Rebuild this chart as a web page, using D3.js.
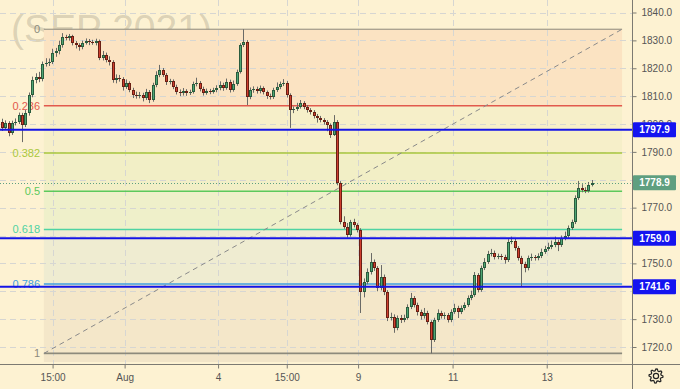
<!DOCTYPE html>
<html><head><meta charset="utf-8">
<script src="https://cdn.jsdelivr.net/npm/d3@7"></script>
<style>html,body{margin:0;padding:0;background:#fdf2d2;} svg{display:block;font-family:"Liberation Sans",Arial,sans-serif;}</style>
</head><body><svg id="c" width="680" height="389"></svg>
<script>
const opens = [
1800.7,1798.6,1800.4,1796.8,1800.4,1800.7,1803.2,1799.6,1803.9,1810.4,
1815.8,1816.9,1816.1,1821.5,1821.9,1822.2,1825.5,1826.2,1828.3,1831.2,
1830.8,1831.6,1829.1,1828.3,1827.6,1829.1,1829.8,1829.4,1829.0,1829.8,
1823.7,1824.8,1823.0,1822.2,1815.8,1816.5,1816.1,1813.3,1814.7,1812.2,
1810.4,1810.0,1810.4,1809.3,1811.5,1808.6,1814.0,1817.6,1819.4,1817.6,
1815.1,1815.4,1813.3,1811.5,1811.1,1811.8,1811.1,1811.5,1814.4,1814.7,
1812.6,1811.1,1811.8,1811.5,1812.2,1812.9,1814.0,1812.9,1815.1,1812.2,
1814.4,1818.7,1828.3,1829.4,1809.7,1812.2,1812.6,1811.8,1812.9,1811.5,
1810.0,1809.7,1812.2,1813.3,1814.4,1814.7,1810.4,1805.0,1805.4,1806.1,
1807.5,1806.1,1805.0,1804.3,1802.9,1802.2,1801.4,1800.7,1799.6,1796.1,
1800.7,1778.8,1764.8,1763.1,1760.2,1764.8,1763.8,1762.0,1739.7,1743.3,
1746.9,1750.5,1748.3,1741.2,1745.1,1739.7,1730.4,1730.9,1726.8,1730.4,
1729.7,1730.4,1734.4,1737.6,1735.1,1732.6,1731.1,1732.2,1729.0,1722.5,
1729.7,1732.2,1731.1,1731.5,1729.7,1732.6,1734.0,1732.6,1734.0,1735.1,
1737.6,1738.7,1745.8,1740.5,1748.3,1750.5,1753.4,1753.7,1752.3,1752.6,
1752.3,1751.2,1757.7,1758.0,1755.5,1751.9,1749.8,1748.3,1751.9,1752.3,
1751.9,1752.6,1754.1,1755.2,1755.9,1756.6,1757.7,1756.6,1759.1,1759.8,
1762.7,1764.8,1773.5,1777.0,1776.3,1776.0,1778.1];
const closes = [
1798.6,1800.4,1796.8,1800.4,1800.7,1803.2,1799.6,1803.9,1810.4,1815.8,
1816.9,1816.1,1821.5,1821.9,1822.2,1825.5,1826.2,1828.3,1831.2,1830.8,
1831.6,1829.1,1828.3,1827.6,1829.1,1829.8,1829.4,1829.0,1829.8,1823.7,
1824.8,1823.0,1822.2,1815.8,1816.5,1816.1,1813.3,1814.7,1812.2,1810.4,
1810.0,1810.4,1809.3,1811.5,1808.6,1814.0,1817.6,1819.4,1817.6,1815.1,
1815.4,1813.3,1811.5,1811.1,1811.8,1811.1,1811.5,1814.4,1814.7,1812.6,
1811.1,1811.8,1811.5,1812.2,1812.9,1814.0,1812.9,1815.1,1812.2,1814.4,
1818.7,1828.3,1829.4,1809.7,1812.2,1812.6,1811.8,1812.9,1811.5,1810.0,
1809.7,1812.2,1813.3,1814.4,1814.7,1810.4,1805.0,1805.4,1806.1,1807.5,
1806.1,1805.0,1804.3,1802.9,1802.2,1801.4,1800.7,1799.6,1796.1,1800.7,
1778.8,1764.8,1763.1,1760.2,1764.8,1763.8,1762.0,1739.7,1743.3,1746.9,
1750.5,1748.3,1741.2,1745.1,1739.7,1730.4,1730.9,1726.8,1730.4,1729.7,
1730.4,1734.4,1737.6,1735.1,1732.6,1731.1,1732.2,1729.0,1722.5,1729.7,
1732.2,1731.1,1731.5,1729.7,1732.6,1734.0,1732.6,1734.0,1735.1,1737.6,
1738.7,1745.8,1740.5,1748.3,1750.5,1753.4,1753.7,1752.3,1752.6,1752.3,
1751.2,1757.7,1758.0,1755.5,1751.9,1749.8,1748.3,1751.9,1752.3,1751.9,
1752.6,1754.1,1755.2,1755.9,1756.6,1757.7,1756.6,1759.1,1759.8,1762.7,
1764.8,1773.5,1777.0,1776.3,1776.0,1778.1,1778.9];
const highs = [
1801.9,1801.3,1801.0,1801.2,1802.0,1804.1,1804.0,1805.0,1811.3,1817.0,
1818.2,1818.7,1822.4,1823.6,1823.5,1827.0,1827.3,1829.9,1832.6,1832.0,
1832.3,1832.0,1829.8,1829.0,1829.9,1830.7,1830.5,1830.2,1830.6,1830.3,
1826.2,1825.6,1824.3,1822.9,1817.8,1817.6,1816.8,1816.0,1815.3,1813.0,
1811.6,1811.5,1811.2,1812.6,1812.2,1814.8,1818.9,1821.2,1820.1,1818.3,
1816.2,1816.0,1814.1,1812.4,1812.9,1812.5,1812.3,1815.2,1816.6,1815.4,
1813.4,1812.7,1812.6,1813.0,1813.9,1815.3,1814.8,1816.3,1815.9,1815.6,
1819.5,1829.0,1834.0,1830.1,1813.1,1813.5,1813.4,1813.8,1813.5,1812.0,
1810.9,1813.0,1814.9,1815.2,1816.1,1815.4,1811.0,1806.3,1807.6,1808.6,
1808.2,1806.8,1805.7,1805.0,1803.6,1802.9,1802.1,1801.4,1800.2,1803.2,
1801.4,1779.5,1766.9,1764.5,1765.6,1766.0,1764.4,1762.6,1744.6,1748.2,
1753.7,1751.4,1749.0,1749.4,1746.0,1740.4,1732.3,1731.7,1731.3,1731.5,
1731.6,1735.3,1739.4,1738.3,1735.9,1733.4,1734.0,1733.0,1729.6,1730.5,
1733.5,1733.0,1732.4,1732.2,1733.5,1735.5,1734.8,1734.9,1736.0,1738.5,
1740.2,1746.9,1746.5,1749.2,1751.9,1754.5,1755.2,1754.6,1753.5,1753.4,
1753.1,1758.7,1759.6,1758.8,1756.2,1752.7,1750.6,1752.8,1753.5,1753.0,
1753.6,1755.3,1756.3,1757.4,1758.2,1759.6,1758.5,1760.0,1761.4,1763.6,
1765.7,1774.4,1779.6,1778.4,1777.3,1779.2,1779.9];
const lows = [
1797.5,1797.9,1795.6,1796.1,1799.5,1800.0,1793.5,1798.9,1803.0,1809.6,
1814.6,1815.0,1815.3,1820.6,1820.8,1821.5,1824.1,1825.0,1827.4,1830.0,
1829.9,1828.2,1827.1,1826.3,1826.8,1828.5,1828.3,1828.4,1828.2,1822.9,
1822.8,1822.1,1821.0,1814.8,1814.6,1815.2,1812.0,1812.6,1811.4,1809.3,
1809.1,1809.2,1808.1,1808.6,1807.5,1808.0,1813.2,1816.8,1816.9,1814.0,
1814.2,1812.5,1810.6,1810.0,1810.2,1810.1,1810.4,1810.9,1813.5,1811.7,
1810.2,1810.5,1810.7,1810.9,1811.4,1812.1,1811.9,1812.3,1811.3,1811.6,
1813.7,1818.1,1827.6,1806.8,1808.9,1811.2,1810.9,1811.0,1810.6,1809.0,
1808.8,1809.0,1811.5,1812.5,1813.6,1809.5,1798.6,1803.9,1804.7,1805.5,
1805.3,1804.1,1803.4,1802.0,1800.5,1800.6,1799.8,1797.4,1795.0,1795.7,
1778.0,1764.0,1762.4,1759.2,1759.6,1762.9,1761.1,1732.2,1737.8,1742.5,
1746.0,1747.3,1740.0,1740.3,1738.6,1729.3,1729.5,1725.1,1726.0,1728.6,
1728.9,1729.8,1733.6,1734.2,1731.3,1729.8,1730.2,1728.1,1717.7,1721.8,
1729.0,1730.2,1730.0,1728.8,1728.9,1731.9,1730.4,1731.8,1733.2,1734.4,
1736.8,1738.0,1739.6,1739.8,1747.6,1749.8,1752.5,1751.4,1751.5,1751.2,
1749.9,1750.5,1756.9,1754.6,1751.0,1741.8,1746.8,1747.5,1750.9,1751.0,
1751.1,1751.9,1753.4,1754.5,1755.1,1755.8,1754.4,1755.9,1758.3,1759.0,
1762.0,1764.1,1772.8,1775.5,1775.2,1775.4,1777.6];

const priceTicks = [1720,1730,1740,1750,1760,1770,1780,1790,1800,1810,1820,1830,1840];
const hiddenTickLabels = [1740,1760,1780];
const timeTickLabels = ["15:00","Aug","4","15:00","9","11","13"];
const timeTickBars = [15.1,36.6,64.5,85.0,106.3,134.5,162.6];

const fibLevels = [0,0.236,0.382,0.5,0.618,0.786,1];
const fibLabels = ["0","0.236","0.382","0.5","0.618","0.786","1"];
const fibColors = ["#8c8a7c","#e2594d","#a9c73c","#5cc95c","#4fd3a2","#3f9fe0","#8c8a7c"];
const fibFills = ["#fbe3c2","#f6efc9","#f2efc6","#eff0ca","#efecd1","#f4e7c9"];
const fibHigh = 1834.0, fibLow = 1717.7;
const fibStartBar = 12.5, fibEndBar = 185.1;

const hLines = [1797.9, 1759.0, 1741.6];
const lastPrice = 1778.9;
const symbolText = "(SEP 2021)";

const W = 680, H = 389, plotR = 632, plotB = 364;
const svg = d3.select("#c");
const x = d3.scaleLinear().domain([0, closes.length - 1]).range([2, 591.6]);
const y = d3.scaleLinear().domain([1720, 1840]).range([347, 12.5]);
const fibPrice = l => fibHigh - (fibHigh - fibLow) * l;

svg.append("rect").attr("width", W).attr("height", H).attr("fill", "#fdf2d2");

// watermark
svg.append("text").attr("x", 11).attr("y", 42).attr("font-size", 39)
  .attr("fill", "#8c8470").attr("fill-opacity", 0.3).text(symbolText);

// fib fills
const fx0 = x(fibStartBar), fx1 = x(fibEndBar);
for (let k = 0; k < fibLevels.length - 1; k++) {
  const ya = y(fibPrice(fibLevels[k])), yb = y(fibPrice(fibLevels[k + 1]));
  svg.append("rect").attr("x", fx0).attr("width", fx1 - fx0).attr("y", ya).attr("height", yb - ya)
    .attr("fill", fibFills[k]);
}
svg.append("rect").attr("x", fx0).attr("width", fx1 - fx0).attr("y", y(fibLow) + 1)
  .attr("height", plotB - y(fibLow) - 3).attr("fill", "#f2e5c8");

// grid
const grid = svg.append("g").attr("stroke", "#d6d6d2").attr("stroke-dasharray", "6,4").attr("stroke-width", 1);
priceTicks.forEach(p => grid.append("line").attr("x1", 0).attr("x2", plotR)
  .attr("y1", Math.round(y(p)) + 0.5).attr("y2", Math.round(y(p)) + 0.5));
timeTickBars.forEach(b => grid.append("line").attr("y1", 0).attr("y2", plotB)
  .attr("x1", Math.round(x(b)) + 0.5).attr("x2", Math.round(x(b)) + 0.5));

// fib lines
fibLevels.forEach((l, k) => {
  const yy = y(fibPrice(l));
  svg.append("line").attr("x1", fx0).attr("x2", fx1).attr("y1", yy).attr("y2", yy)
    .attr("stroke", fibColors[k]).attr("stroke-width", (k === 0) ? 1 : 1.6);
  svg.append("text").attr("x", 40).attr("y", yy).attr("dy", "0.35em").attr("text-anchor", "end")
    .attr("font-size", 11).attr("fill", fibColors[k]).text(fibLabels[k]);
});

// trend line
svg.append("line").attr("x1", fx0).attr("y1", y(fibLow)).attr("x2", fx1).attr("y2", y(fibHigh))
  .attr("stroke", "#8a8a8a").attr("stroke-width", 1).attr("stroke-dasharray", "5,4");

// last price dotted line
svg.append("line").attr("x1", 0).attr("x2", plotR).attr("y1", Math.round(y(lastPrice)) + 0.5).attr("y2", Math.round(y(lastPrice)) + 0.5)
  .attr("stroke", "#5f9f80").attr("stroke-width", 1).attr("stroke-dasharray", "1,2");

// candles
const data = closes.map((c, i) => ({ i, o: opens[i], h: highs[i], l: lows[i], c }));
const cg = svg.append("g").selectAll("g").data(data).join("g");
cg.append("line")
  .attr("x1", d => Math.round(x(d.i)) + 0.5).attr("x2", d => Math.round(x(d.i)) + 0.5)
  .attr("y1", d => y(d.h)).attr("y2", d => y(d.l))
  .attr("stroke", "#6a6a66").attr("stroke-width", 1);
cg.append("rect")
  .attr("x", d => Math.round(x(d.i)) - 1).attr("width", 3)
  .attr("y", d => Math.round(y(Math.max(d.o, d.c))))
  .attr("height", d => Math.max(1, Math.round(y(Math.min(d.o, d.c))) - Math.round(y(Math.max(d.o, d.c)))))
  .attr("fill", d => d.c >= d.o ? "#2a5c3e" : "#6a1f14");
cg.filter(d => Math.abs(y(d.o) - y(d.c)) > 2.5).append("rect")
  .attr("x", d => Math.round(x(d.i))).attr("width", 1)
  .attr("y", d => Math.round(y(Math.max(d.o, d.c))) + 1)
  .attr("height", d => Math.max(1, Math.round(y(Math.min(d.o, d.c))) - Math.round(y(Math.max(d.o, d.c))) - 2))
  .attr("fill", d => d.c >= d.o ? "#4fa673" : "#cf3f2e");

// blue horizontal lines
hLines.forEach(p => {
  svg.append("line").attr("x1", 0).attr("x2", plotR).attr("y1", y(p)).attr("y2", y(p))
    .attr("stroke", "#1414e6").attr("stroke-width", 2);
});

// axes area
svg.append("rect").attr("x", plotR).attr("y", 0).attr("width", W - plotR).attr("height", H).attr("fill", "#fdf2d2");
svg.append("rect").attr("x", 0).attr("y", plotB).attr("width", W).attr("height", H - plotB).attr("fill", "#fdf2d2");
svg.append("line").attr("x1", plotR + 0.5).attr("x2", plotR + 0.5).attr("y1", 0).attr("y2", H).attr("stroke", "#7c7a72");
svg.append("line").attr("x1", 0).attr("x2", W).attr("y1", plotB + 0.5).attr("y2", plotB + 0.5).attr("stroke", "#7c7a72");

const yAxis = d3.axisRight(y).tickValues(priceTicks)
  .tickFormat(d => hiddenTickLabels.includes(d) ? "" : d3.format(".1f")(d)).tickSize(4).tickPadding(5);
const ya = svg.append("g").attr("transform", `translate(${plotR + 0.5},0)`).call(yAxis);
ya.select(".domain").remove();
ya.selectAll("line").attr("stroke", "#7c7a72");
ya.selectAll("text").attr("fill", "#555").attr("font-size", 10).attr("font-family", "Liberation Sans, Arial, sans-serif");

const xAxis = d3.axisBottom(x).tickValues(timeTickBars).tickFormat((d, k) => timeTickLabels[k]).tickSize(4).tickPadding(5);
const xa = svg.append("g").attr("transform", `translate(0,${plotB + 0.5})`).call(xAxis);
xa.select(".domain").remove();
xa.selectAll("line").attr("stroke", "#7c7a72");
xa.selectAll("text").attr("fill", "#555").attr("font-size", 10).attr("font-family", "Liberation Sans, Arial, sans-serif");

// price labels
function priceLabel(p, color) {
  const yy = y(p);
  svg.append("rect").attr("x", plotR + 1).attr("y", yy - 7.5).attr("width", 43).attr("height", 15)
    .attr("fill", color).attr("rx", 1);
  svg.append("text").attr("x", plotR + 22.5).attr("y", yy).attr("dy", "0.35em").attr("text-anchor", "middle")
    .attr("font-size", 10).attr("font-weight", "bold").attr("fill", "#fff").text(d3.format(".1f")(p));
}
hLines.forEach(p => priceLabel(p, "#1414f0"));
priceLabel(lastPrice, "#5f9f80");

// gear icon
const gc = [656, 376], rO = 7, rI = 5.2, teeth = 8;
const pts = [];
for (let t = 0; t < teeth * 4; t++) {
  const a = (t / (teeth * 4)) * Math.PI * 2;
  const r = (t % 4 < 2) ? rO : rI;
  pts.push([gc[0] + r * Math.cos(a), gc[1] + r * Math.sin(a)]);
}
svg.append("path").attr("d", d3.line()(pts) + "Z").attr("fill", "none").attr("stroke", "#222").attr("stroke-width", 1.2);
svg.append("circle").attr("cx", gc[0]).attr("cy", gc[1]).attr("r", 2.6).attr("fill", "none").attr("stroke", "#222").attr("stroke-width", 1.2);
</script></body></html>
